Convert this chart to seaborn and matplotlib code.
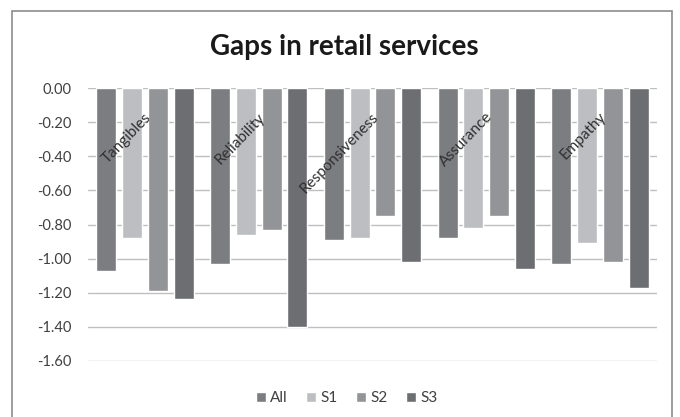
import matplotlib
matplotlib.use("Agg")
import matplotlib.pyplot as plt
import seaborn as sns
import pandas as pd
from matplotlib.patches import Rectangle

categories = ["Tangibles", "Reliability", "Responsiveness", "Assurance", "Empathy"]
series = ["All", "S1", "S2", "S3"]
all_vals = [-1.07, -1.03, -0.89, -0.88, -1.03]
s1_vals = [-0.88, -0.86, -0.88, -0.82, -0.91]
s2_vals = [-1.19, -0.83, -0.75, -0.75, -1.02]
s3_vals = [-1.24, -1.40, -1.02, -1.06, -1.17]
yticks = [0.0, -0.2, -0.4, -0.6, -0.8, -1.0, -1.2, -1.4, -1.6]

colors = ["#7c7d81", "#bdbec2", "#939497", "#6d6e72"]

rows = []
for name, vals in zip(series, [all_vals, s1_vals, s2_vals, s3_vals]):
    for c, v in zip(categories, vals):
        rows.append({"cat": c, "series": name, "value": v})
df = pd.DataFrame(rows)

sns.set_style("white")
plt.rcParams["font.family"] = ["Lato", "DejaVu Sans"]

fig = plt.figure(figsize=(6.8, 4.17), dpi=100)
ax = fig.add_axes([88 / 680, 1 - 360.8 / 417, (657 - 88) / 680, (360.8 - 88.3) / 417])

sns.barplot(data=df, x="cat", y="value", hue="series", order=categories,
            hue_order=series, palette=colors, width=0.907, gap=0.22,
            saturation=1, ax=ax, zorder=3)

ax.set_ylim(-1.6, 0)
ax.set_xlim(-0.5, len(categories) - 0.5)
ax.set_yticks(yticks)
ax.set_yticklabels([f"{t:.2f}" for t in yticks], fontsize=10.5, color="#404040")
ax.tick_params(axis="y", length=0, pad=12)
ax.set_xticks([])
ax.set_xlabel("")
ax.set_ylabel("")
for s in ax.spines.values():
    s.set_visible(False)
ax.grid(axis="y", color="#bfbfbf", linewidth=1.0, zorder=0)
ax.set_axisbelow(True)

for i, c in enumerate(categories):
    ax.text(i + 0.025, -0.15, c, rotation=46, rotation_mode="anchor",
            ha="right", va="center_baseline", fontsize=11, color="#303030", zorder=5)

handles, labels = ax.get_legend_handles_labels()
leg = ax.legend(handles, labels, loc="center", bbox_to_anchor=(347 / 680, 1 - 398 / 417),
                bbox_transform=fig.transFigure, ncol=4, frameon=False,
                handlelength=0.65, handleheight=0.65, handletextpad=0.3,
                columnspacing=1.2, fontsize=11)
for t in leg.get_texts():
    t.set_color("#404040")

fig.text(0.5 + 4 / 680, 1 - 47 / 417, "Gaps in retail services", ha="center", va="center",
         fontsize=20, fontweight="bold", color="#1a1a1a")

fig.patches.append(Rectangle((12 / 680, -0.05), (672 - 12) / 680, 1 - 11 / 417 + 0.05,
                             transform=fig.transFigure, fill=False,
                             edgecolor="#8c8c8c", linewidth=1.2))

fig.savefig("out.png", dpi=100)
